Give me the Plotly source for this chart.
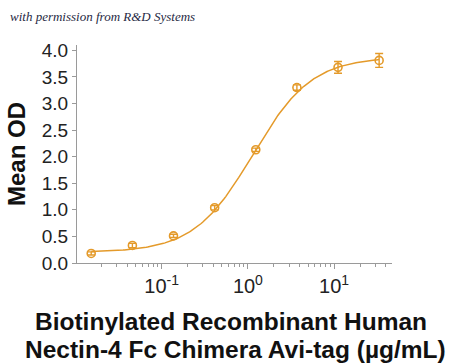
import numpy as np
import plotly.graph_objects as go

# Data (concentration in µg/mL, mean OD, error)
conc = [0.0152, 0.0457, 0.137, 0.4115, 1.235, 3.704, 11.11, 33.33]
mean_od = [0.18, 0.33, 0.51, 1.04, 2.13, 3.30, 3.68, 3.81]
od_err = [0.03, 0.04, 0.03, 0.04, 0.03, 0.05, 0.11, 0.13]

# 4-parameter logistic fit parameters (bottom, top, EC50, Hill slope)
fit_bottom = 0.20
fit_top = 3.875
fit_ec50 = 1.14
fit_hill = 1.27

x_tickvals = [0.1, 1, 10]
x_ticktext = ["10<sup>-1</sup>", "10<sup>0</sup>", "10<sup>1</sup>"]
x_minorvals = [m * 10.0 ** e for e in (-2, -1, 0, 1) for m in range(2, 10) if m * 10.0 ** e < 47]
y_tickvals = [0, 0.5, 1.0, 1.5, 2.0, 2.5, 3.0, 3.5, 4.0]
y_ticktext = ["0.0", "0.5", "1.0", "1.5", "2.0", "2.5", "3.0", "3.5", "4.0"]

color = "#E49A2A"
axis_col = "#9a9a9a"

xf = np.logspace(np.log10(conc[0]), np.log10(conc[-1]), 200)
yf = fit_bottom + (fit_top - fit_bottom) / (1 + (fit_ec50 / xf) ** fit_hill)

fig = go.Figure()
fig.add_trace(go.Scatter(x=xf, y=yf, mode="lines",
                         line=dict(color=color, width=1.5),
                         hoverinfo="skip", showlegend=False))
fig.add_trace(go.Scatter(x=conc, y=mean_od, mode="markers",
                         marker=dict(symbol="circle-open", size=8,
                                     color=color, line=dict(width=1.6, color=color)),
                         error_y=dict(type="data", array=od_err, visible=True,
                                      color=color, thickness=1.4, width=4),
                         showlegend=False))

fig.update_layout(
    width=450, height=364,
    margin=dict(l=77, r=58, t=45, b=101, autoexpand=False),
    plot_bgcolor="white", paper_bgcolor="white",
    font=dict(family="Liberation Sans, Arial, sans-serif", color="#222"),
    xaxis=dict(
        type="log",
        range=[np.log10(0.0104), np.log10(47)],
        tickmode="array", tickvals=x_tickvals, ticktext=x_ticktext,
        showgrid=False, zeroline=False, automargin=False,
        showline=True, linecolor=axis_col, linewidth=1,
        ticks="outside", ticklen=5, tickcolor=axis_col,
        tickfont=dict(size=20, color="#222"),
        minor=dict(tickmode="array", tickvals=x_minorvals, ticks="outside",
                   ticklen=3, tickcolor=axis_col, showgrid=False),
    ),
    yaxis=dict(
        range=[0, 4.1],
        tickmode="array", tickvals=y_tickvals, ticktext=y_ticktext,
        showgrid=False, zeroline=False, automargin=False,
        showline=True, linecolor=axis_col, linewidth=1,
        ticks="outside", ticklen=4, tickcolor=axis_col,
        tickfont=dict(size=19, color="#222"),
    ),
    annotations=[
        dict(text="<i>with permission from R&amp;D Systems</i>",
             xref="paper", yref="paper", x=-77/315, y=1.0, yanchor="middle",
             xanchor="left", xshift=8, yshift=29, showarrow=False,
             font=dict(family="Liberation Serif, serif", size=13, color="#1f2a44")),
        dict(text="<b>Mean OD</b>", textangle=-90,
             xref="paper", yref="paper", x=-77/315, xshift=16, y=0.5,
             xanchor="center", yanchor="middle", showarrow=False,
             font=dict(size=24, color="#111")),
        dict(text="<b>Biotinylated Recombinant Human</b>",
             xref="paper", yref="paper", x=(231 - 77) / 315, y=0, yshift=-58,
             xanchor="center", yanchor="middle", showarrow=False,
             font=dict(size=24.5, color="#111")),
        dict(text="<b>Nectin-4 Fc Chimera Avi-tag (µg/mL)</b>",
             xref="paper", yref="paper", x=(235 - 77) / 315, y=0, yshift=-86,
             xanchor="center", yanchor="middle", showarrow=False,
             font=dict(size=24.5, color="#111")),
    ],
)

fig.write_html("out.html", config={"displayModeBar": False},
               post_script="document.body.style.margin='0';document.body.style.padding='0';")
